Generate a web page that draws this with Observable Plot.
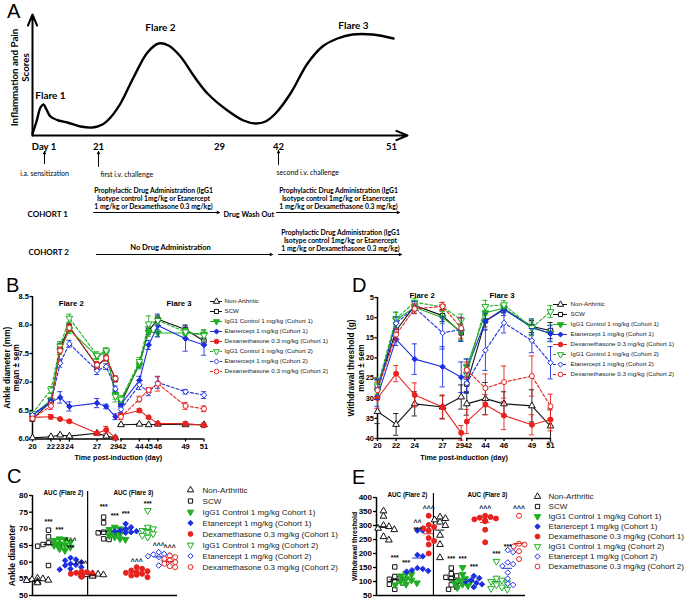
<!DOCTYPE html>
<html>
<head>
<meta charset="utf-8">
<script src="https://cdn.jsdelivr.net/npm/d3@7"></script>
<script src="https://cdn.jsdelivr.net/npm/@observablehq/plot@0.6"></script>
<style>
html,body{margin:0;padding:0;background:#fff;}
#fig{position:relative;width:685px;height:599px;overflow:hidden;background:#fff;}
.letter{position:absolute;font-size:20px;line-height:20px;color:#000;font-family:"Liberation Sans",Arial,sans-serif;}
</style>
</head>
<body>
<div id="fig"></div>
<script>
// ================= DATA =================
const seriesNames = ["Non-Arthritic","SCW","IgG1 Control 1 mg/kg (Cohort 1)","Etanercept 1 mg/kg (Cohort 1)","Dexamethasone 0.3 mg/kg (Cohort 1)","IgG1 Control 1 mg/kg (Cohort 2)","Etanercept 1 mg/kg (Cohort 2)","Dexamethasone 0.3 mg/kg (Cohort 2)"];
const aucLegendNames = ["Non-Arthritic","SCW","IgG1 Control 1 mg/kg Cohort 1)","Etanercept 1 mg/kg (Cohort 1)","Dexamethasone 0.3 mg/kg (Cohort 1)","IgG1 Control 1 mg/kg (Cohort 2)","Etanercept 1 mg/kg (Cohort 2)","Dexamethasone 0.3 mg/kg (Cohort 2)"];

// Panel A diagram text
const diagramFlares = ["Flare 1","Flare 2","Flare 3"];
const diagramDays = ["Day 1","21","29","42","51"];
const diagramEvents = ["i.a. sensitization","first i.v. challenge","second i.v. challenge"];
const drugText = "Prophylactic Drug Administration (IgG1\nIsotype control 1mg/kg or Etanercept\n1 mg/kg or Dexamethasone 0.3 mg/kg)";
// schematic score curve (diagram units)
const diagramCurveX = [32,36,40,43,46,50,58,67,80,92,102,110,120,133,147,158,168,180,193,207,227,243,255,265,275,290,307,322,337,352,372,393];
const diagramCurveY = [133,121,107,104,109,116,120,122,126,127,124,117,103,77,52,43,45,56,75,93,110,120,123,121,113,93,63,46,38,34,34,38];

// Panel B: ankle diameter (mm), mean and sem
const ankleDays = [20,22,23,24,27,28,29,42,44,45,46,49,51];
const ankleNonArthritic = [6.02,6.04,6.07,6.05,6.10,6.05,6.02, 6.25,6.26,6.25,6.26,6.25,6.25];
const ankleSCW          = [6.35,6.66,7.60,7.97,7.28,7.42,7.05, 6.63,7.32,7.90,8.10,7.92,7.72];
const ankleIgG1C1       = [6.42,6.68,7.55,7.92,7.45,7.52,6.78, 6.68,7.30,7.88,7.86,7.86,7.84];
const ankleEtanC1       = [6.43,6.65,6.73,6.57,6.63,6.57,6.39, 6.61,7.03,7.65,7.99,7.76,7.65];
const ankleDexC1        = [6.38,6.39,6.35,6.31,6.10,6.16,6.02, 6.42,6.50,6.38,6.27,6.27,6.24];
const ankleIgG1C2       = [6.45,6.86,7.63,8.12,7.47,7.55,6.75, 6.70,7.36,8.02,8.08,7.88,7.82];
const ankleEtanC2       = [6.42,6.63,7.33,7.67,7.20,7.27,6.88, 6.52,6.95,6.82,6.99,6.83,6.77];
const ankleDexC2        = [6.36,6.58,7.55,7.95,7.30,7.42,7.06, 6.39,6.70,6.86,6.97,6.58,6.53];
const ankleSemNonArthritic = [0.01,0.01,0.01,0.01,0.01,0.01,0.01, 0.01,0.01,0.01,0.01,0.01,0.01];
const ankleSemSCW          = [0.04,0.05,0.08,0.06,0.06,0.05,0.05, 0.05,0.07,0.07,0.06,0.08,0.06];
const ankleSemIgG1C1       = [0.03,0.05,0.07,0.07,0.05,0.07,0.08, 0.05,0.07,0.08,0.06,0.07,0.06];
const ankleSemEtanC1       = [0.03,0.05,0.10,0.08,0.08,0.04,0.05, 0.05,0.07,0.08,0.20,0.22,0.18];
const ankleSemDexC1        = [0.04,0.04,0.02,0.02,0.03,0.06,0.03, 0.04,0.03,0.02,0.03,0.03,0.04];
const ankleSemIgG1C2       = [0.03,0.06,0.08,0.07,0.06,0.05,0.10, 0.06,0.07,0.14,0.08,0.06,0.10];
const ankleSemEtanC2       = [0.03,0.05,0.07,0.06,0.07,0.05,0.05, 0.05,0.08,0.06,0.10,0.04,0.06];
const ankleSemDexC2        = [0.03,0.06,0.06,0.06,0.06,0.05,0.05, 0.05,0.05,0.04,0.13,0.06,0.05];
const ankleYTicks = [6.0,6.5,7.0,7.5,8.0,8.5];
const ankleXTicks = [20,22,23,24,27,29,42,44,45,46,49,51];

// Panel D: withdrawal threshold (g), mean and sem
const wdDays = [20,22,24,27,29,42,44,46,49,51];
const wdNonArthritic = [33.3,36.5,31.4,32.2,29.7, 31.4,30.1,31.4,31.9,36.9];
const wdSCW          = [27.5,13.2,7.0,9.5,13.8, 26.5,10.8,7.8,12.2,13.2];
const wdIgG1C1       = [28.2,10.6,7.4,10.0,13.5, 22.2,8.8,7.6,12.6,13.8];
const wdEtanC1       = [29.5,15.4,20.3,22.2,24.8, 22.8,10.9,8.0,12.3,14.0];
const wdDexC1        = [30.0,23.9,29.2,32.2,38.6, 35.8,31.6,34.3,36.6,35.3];
const wdIgG1C2       = [27.0,10.2,6.2,7.3,10.6, 24.0,7.2,6.8,12.5,8.5];
const wdEtanC2       = [27.8,11.4,7.5,13.8,12.9, 26.3,18.1,11.3,15.7,21.2];
const wdDexC2        = [28.0,14.2,7.8,7.2,12.6, 23.0,27.5,26.0,24.5,32.0];
const wdSemNonArthritic = [3.0,2.7,3.0,2.8,3.0, 2.8,4.0,3.0,4.0,4.0];
const wdSemSCW          = [2.0,2.0,1.2,1.5,2.0, 1.8,1.5,1.0,1.5,2.0];
const wdSemIgG1C1       = [2.0,2.0,1.2,1.5,2.0, 2.0,1.5,1.0,1.5,2.0];
const wdSemEtanC1       = [2.5,1.5,3.8,5.0,3.8, 2.5,2.0,1.5,2.0,2.0];
const wdSemDexC1        = [2.5,2.0,3.0,3.0,1.8, 3.0,2.5,3.5,2.5,2.8];
const wdSemIgG1C2       = [2.0,1.5,1.0,1.0,1.5, 2.5,1.5,1.0,2.0,1.5];
const wdSemEtanC2       = [2.5,1.5,1.5,4.0,3.0, 2.5,5.0,2.5,3.0,4.0];
const wdSemDexC2        = [2.0,1.5,1.2,1.0,2.5, 2.0,3.5,4.0,5.0,3.0];
const wdYTicks = [5,10,15,20,25,30,35,40];
const wdXTicks = [20,22,24,27,29,42,44,46,49,51];

// Panel C: AUC ankle diameter, individual animals (Flare 2 then Flare 3 groups)
const aucAnkleF2NonArth = [54.2,54.5,54.8,55.0,54.0,53.8,54.6,55.2];
const aucAnkleF2SCW     = [69.6,67.6,65.8,65.3,65.0,64.8,65.5,59.0];
const aucAnkleF2IgG1C1  = [67.0,66.5,66.0,65.5,65.0,64.5,63.5,66.8,64.0,65.2];
const aucAnkleF2EtanC1  = [61.3,60.5,60.0,59.5,59.0,58.5,58.0,60.8,59.2,57.8];
const aucAnkleF2DexC1   = [57.2,56.8,56.5,56.3,56.0,55.8,56.6,57.0,56.2,55.6];
const aucAnkleF3NonArth = [56.3,56.0,55.8,56.2,56.5,55.9,56.1,56.4];
const aucAnkleF3SCW     = [73.5,71.8,69.0,68.8,68.5,67.0,66.8,68.8];
const aucAnkleF3IgG1C1  = [70.5,70.0,69.5,69.0,68.5,68.0,67.5,67.0,66.8,69.8];
const aucAnkleF3EtanC1  = [71.5,70.5,70.0,69.5,69.2,69.0,68.8,69.3];
const aucAnkleF3DexC1   = [58.5,58.0,57.5,57.0,56.8,56.5,56.0,55.5,57.3,56.2];
const aucAnkleF3IgG1C2  = [75.5,70.5,70.0,69.5,68.5,68.0,67.5,69.0];
const aucAnkleF3EtanC2  = [63.0,62.5,62.0,61.8,61.5,60.5,59.0,62.3];
const aucAnkleF3DexC2   = [62.0,61.0,60.5,60.0,59.5,58.8,58.5,61.5];
const aucAnkleSigGroup = [1,2,3,3,4,6,7,8,9,10,11,12];
const aucAnkleSigText  = ["***","***","^^^","***","^^^","***","***","***","^^^","***","^^^","^^^"];
const aucAnkleSigValue = [72.0,69.6,66.3,64.2,59.4,76.6,73.8,74.4,60.2,77.6,64.8,64.2];
const aucAnkleTicks = [50,55,60,65,70,75,80];

// Panel E: AUC withdrawal threshold, individual animals
const aucWdF2NonArth = [352,333,300,296,290,285,260,248];
const aucWdF2SCW     = [152,118,112,108,100,95,90,72];
const aucWdF2IgG1C1  = [128,125,120,110,105,100,95,90,88];
const aucWdF2EtanC1  = [282,282,195,190,148,145,140,138,135];
const aucWdF2DexC1   = [335,302,295,290,282,255,245,232,200];
const aucWdF3NonArth = [330,325,320,312,300,265,232,185];
const aucWdF3SCW     = [148,128,120,115,110,100,88,80,72];
const aucWdF3IgG1C1  = [150,125,110,105,100,95,90,85,78];
const aucWdF3EtanC1  = [120,112,105,100,95,90,80];
const aucWdF3DexC1   = [335,330,328,325,322,318,315,285,240];
const aucWdF3IgG1C2  = [172,112,105,100,95,88,80,75,72];
const aucWdF3EtanC2  = [212,205,168,162,155,132,110,92,88];
const aucWdF3DexC2   = [335,235,232,225,208,180];
const aucWdSigGroup = [1,2,3,3,4,6,7,8,9,10,11,12];
const aucWdSigText  = ["***","***","^^","***","^^^","***","***","***","^^^","***","***","^^^"];
const aucWdSigValue = [183,168,308,285,358,180,180,153,358,200,225,358];
const aucWdTicks = [50,100,150,200,250,300,350,400];

const aucTitles = ["AUC (Flare 2)","AUC (Flare 3)"];
const aucGroupSeries = [0,1,2,3,4, 0,1,2,3,4,5,6,7];

// ================= STYLE =================
const FONT = '"Liberation Sans", Arial, sans-serif';
const DFONT = 'Lato, "Open Sans", sans-serif';
const GREEN = "#1faf22", BLUE = "#1c2fe0", RED = "#e8221e", BLACK = "#111";
const seriesColor = [BLACK, BLACK, GREEN, BLUE, RED, GREEN, BLUE, RED];
const triDown = {draw(ctx, size) { const s3 = Math.sqrt(3); const y = -Math.sqrt(size / (s3 * 3)); ctx.moveTo(0, -2 * y); ctx.lineTo(-s3 * y, y); ctx.lineTo(s3 * y, y); ctx.closePath(); }};
const seriesSymbol = ["triangle","square",triDown,"diamond2","circle",triDown,"diamond2","circle"];
const seriesFilled = [false,false,true,true,true,false,false,false];
const seriesDash = [undefined,undefined,undefined,undefined,undefined,"3,2","3,2","3,2"];
const GAP = 12.4;               // axis break between day 29 and day 42
const dayPos = d => (d > 35 ? d - GAP : d);
const posLabel = p => String(p > 29.3 ? Math.round(p + GAP) : Math.round(p));

const fig = document.getElementById("fig");
function mount(node, left, top) {
  node.style.position = "absolute";
  node.style.left = left + "px";
  node.style.top = top + "px";
  node.style.background = "transparent";
  node.style.overflow = "visible";
  node.style.maxWidth = "none";
  fig.appendChild(node);
}
function letter(t, left, top) {
  const d = document.createElement("div");
  d.className = "letter"; d.textContent = t;
  d.style.left = left + "px"; d.style.top = top + "px";
  fig.appendChild(d);
}

// ================= PANEL A =================
(function () {
  const curve = diagramCurveX.map((x, i) => ({x, y: diagramCurveY[i]}));
  const T = (txt, x, y, o = {}) => Plot.text([txt], {x, y, text: d => d, lineAnchor: "bottom", fontWeight: "bold", fontSize: 9, ...o});
  const A = (x1, y1, x2, y2, o = {}) => Plot.arrow([0], {x1, y1, x2, y2, strokeWidth: 1, headLength: 4, headAngle: 50, ...o});
  const p = Plot.plot({
    width: 420, height: 270, margin: 0,
    x: {type: "identity", axis: null}, y: {type: "identity", axis: null},
    style: {fontFamily: DFONT, color: "#000"},
    marks: [
      A(32, 135, 32, 14, {strokeWidth: 2, headLength: 9, headAngle: 45}),
      A(32, 135, 407, 135, {strokeWidth: 2, headLength: 9, headAngle: 45}),
      Plot.line(curve, {x: "x", y: "y", curve: "catmull-rom", strokeWidth: 2.4}),
      T(diagramFlares[0], 50, 98, {fontSize: 10}),
      T(diagramFlares[1], 160, 30, {fontSize: 10}),
      T(diagramFlares[2], 353, 28, {fontSize: 10}),
      Plot.text(["Inflammation and Pain"], {x: 14, y: 77, text: d => d, rotate: -90, textAnchor: "middle", fontWeight: "bold", fontSize: 9.8}),
      Plot.text(["Scores"], {x: 25, y: 67, text: d => d, rotate: -90, textAnchor: "middle", fontWeight: "bold", fontSize: 9.8}),
      T(diagramDays[0], 43.5, 149, {fontSize: 9.5}),
      T(diagramDays[1], 98, 149, {fontSize: 9.5}),
      T(diagramDays[2], 219, 149, {fontSize: 9.5}),
      T(diagramDays[3], 278, 149, {fontSize: 9.5}),
      T(diagramDays[4], 391, 149, {fontSize: 9.5}),
      A(44, 163, 44, 151), A(98, 166, 98, 151), A(278, 164, 278, 150),
      T(diagramEvents[0], 44, 175, {fontWeight: "normal", fontSize: 7}),
      T(diagramEvents[1], 100, 176, {fontWeight: "normal", fontSize: 7, textAnchor: "start"}),
      T(diagramEvents[2], 276, 174, {fontWeight: "normal", fontSize: 7, textAnchor: "start"}),
      T(drugText, 153, 208, {fontSize: 6.8, lineHeight: 1.15}),
      T(drugText, 338, 208, {fontSize: 6.8, lineHeight: 1.15}),
      T(drugText, 340, 250, {fontSize: 6.8, lineHeight: 1.15}),
      T("COHORT 1", 27, 216, {fontSize: 8, textAnchor: "start"}),
      T("COHORT 2", 28, 254, {fontSize: 8, textAnchor: "start"}),
      T("Drug Wash Out", 223, 216, {fontSize: 7.3, textAnchor: "start"}),
      T("No Drug Administration", 170, 249, {fontSize: 7.6}),
      A(93, 212, 219, 212), A(276, 212, 399, 212),
      A(96, 254, 272, 254), A(278, 254, 401, 254)
    ]
  });
  mount(p, 0, 0);
})();

// ================= TIME COURSE (B, D) =================
function timeCourse(cfg) {
  const rows = [];
  cfg.series.forEach((vals, s) => vals.forEach((v, i) => rows.push({s, x: dayPos(cfg.days[i]), flare: cfg.days[i] > 35 ? 3 : 2, v, sem: cfg.sems[s][i]})));
  const capW = 0.28;
  const isBreak = d => d === 29 || d === 42;
  const tickLabelDy = 3 + 1.5;
  const marks = [
    Plot.axisY(cfg.yTicks, {tickFormat: cfg.yFormat, tickSize: 2.5, tickPadding: 1, strokeWidth: 1.3, fontSize: 7.5, fontWeight: "bold", label: null}),
    Plot.axisX(cfg.xTicks.map(dayPos), {tickFormat: p => (isBreak(Math.round(p > 29.3 ? p + GAP : p)) ? "" : posLabel(p)), tickSize: 3, tickPadding: 1.5, strokeWidth: 1.3, fontSize: 7.5, fontWeight: "bold", label: null}),
    // labels on either side of the axis break ("29" | "42")
    Plot.text([29], {x: d => dayPos(d), text: d => String(d), frameAnchor: "bottom", lineAnchor: "top", dy: tickLabelDy, dx: cfg.breakDx, textAnchor: "end", fontSize: 7.5, fontWeight: "bold"}),
    Plot.text([42], {x: d => dayPos(d), text: d => String(d), frameAnchor: "bottom", lineAnchor: "top", dy: tickLabelDy, dx: -cfg.breakDx, textAnchor: "start", fontSize: 7.5, fontWeight: "bold"}),
    Plot.ruleX([dayPos(20)], {y1: cfg.yDomain[0], y2: cfg.yDomain[1], strokeWidth: 1.5}),
    Plot.ruleY([cfg.yBottom], {x1: dayPos(20), x2: dayPos(29) + 0.1, strokeWidth: 1.5}),
    Plot.ruleY([cfg.yBottom], {x1: dayPos(42) - 0.05, x2: dayPos(51), strokeWidth: 1.5})
  ];
  for (let s = 0; s < cfg.series.length; s++) {
    const r = rows.filter(d => d.s === s);
    const c = seriesColor[s];
    marks.push(
      Plot.ruleX(r, {x: "x", y1: d => d.v - d.sem, y2: d => d.v + d.sem, stroke: c, strokeWidth: 0.9}),
      Plot.ruleY(r, {y: d => d.v + d.sem, x1: d => d.x - capW, x2: d => d.x + capW, stroke: c, strokeWidth: 0.9}),
      Plot.ruleY(r, {y: d => d.v - d.sem, x1: d => d.x - capW, x2: d => d.x + capW, stroke: c, strokeWidth: 0.9}),
      Plot.line(r, {x: "x", y: "v", z: "flare", stroke: c, strokeWidth: 1.1, strokeDasharray: seriesDash[s]}),
      Plot.dot(r, {x: "x", y: "v", symbol: seriesSymbol[s], r: 2.5, stroke: c, fill: seriesFilled[s] ? c : "white", strokeWidth: 1})
    );
  }
  marks.push(
    Plot.text(["Flare 2", "Flare 3"], {x: (d, i) => dayPos(cfg.flareDays[i]), frameAnchor: "top", lineAnchor: "middle", dy: cfg.flareDy, text: d => d, fontSize: 7.8, fontWeight: "bold"}),
    Plot.text([cfg.yLabel[0]], {frameAnchor: "left", textAnchor: "middle", rotate: -90, dx: cfg.yLabelDx[0], text: d => d, fontSize: 8.3, fontWeight: "bold"}),
    Plot.text([cfg.yLabel[1]], {frameAnchor: "left", textAnchor: "middle", rotate: -90, dx: cfg.yLabelDx[1], text: d => d, fontSize: 8.3, fontWeight: "bold"}),
    Plot.text(["Time post-induction (day)"], {frameAnchor: "bottom", lineAnchor: "middle", dy: 19, text: d => d, fontSize: 7.2, fontWeight: "bold"})
  );
  return Plot.plot({
    width: cfg.width, height: cfg.height,
    marginLeft: cfg.xRange[0], marginRight: cfg.width - cfg.xRange[1],
    marginTop: cfg.marginTop, marginBottom: cfg.height - cfg.yBottomPx,
    x: {domain: [dayPos(20), dayPos(51)], range: cfg.xRange},
    y: {domain: cfg.yDomain, range: cfg.yRange},
    style: {fontFamily: FONT, color: "#000"},
    marks
  });
}

function lineLegend(names, cfg) {
  const marks = [];
  names.forEach((n, s) => {
    const c = seriesColor[s];
    marks.push(
      Plot.ruleY([n], {y: d => d, x1: 0, x2: 1, stroke: c, strokeWidth: 1, strokeDasharray: seriesDash[s]}),
      Plot.dot([n], {x: 0.5, y: d => d, symbol: seriesSymbol[s], r: 2.3, stroke: c, fill: seriesFilled[s] ? c : "white", strokeWidth: 1})
    );
  });
  marks.push(Plot.text(names, {x: 1, y: d => d, text: d => d, dx: cfg.textDx, textAnchor: "start", fontSize: cfg.fontSize, fill: "#222"}));
  return Plot.plot({
    width: cfg.width, height: cfg.height, margin: 0,
    x: {domain: [0, 1], range: cfg.segment, axis: null},
    y: {type: "band", domain: names, range: [0, cfg.height], padding: 0, axis: null},
    style: {fontFamily: FONT, color: "#000"},
    marks
  });
}

// Panel B
mount(timeCourse({
  days: ankleDays,
  series: [ankleNonArthritic, ankleSCW, ankleIgG1C1, ankleEtanC1, ankleDexC1, ankleIgG1C2, ankleEtanC2, ankleDexC2],
  sems: [ankleSemNonArthritic, ankleSemSCW, ankleSemIgG1C1, ankleSemEtanC1, ankleSemDexC1, ankleSemIgG1C2, ankleSemEtanC2, ankleSemDexC2],
  width: 206, height: 190, xRange: [32, 203.5],
  yDomain: [6.0, 8.5], yRange: [153.5, 11], yBottom: 6.0, yBottomPx: 153.5, marginTop: 11,
  yTicks: ankleYTicks, yFormat: d3.format(".1f"), xTicks: ankleXTicks, breakDx: 3,
  yLabel: ["Ankle diameter (mm)", "mean \u00b1 sem"], yLabelDx: [-25.5, -16],
  flareDays: [24.2, 48.3], flareDy: 7
}), 0, 285);
mount(lineLegend(seriesNames, {width: 140, height: 80, segment: [10, 22], textDx: 2, fontSize: 6.2}), 200, 296);

// Panel D
mount(timeCourse({
  days: wdDays,
  series: [wdNonArthritic, wdSCW, wdIgG1C1, wdEtanC1, wdDexC1, wdIgG1C2, wdEtanC2, wdDexC2],
  sems: [wdSemNonArthritic, wdSemSCW, wdSemIgG1C1, wdSemEtanC1, wdSemDexC1, wdSemIgG1C2, wdSemEtanC2, wdSemDexC2],
  width: 215, height: 190, xRange: [37, 210],
  yDomain: [5, 40], yRange: [12, 153], yBottom: 40, yBottomPx: 153, marginTop: 12,
  yTicks: wdYTicks, yFormat: d3.format("d"), xTicks: wdXTicks, breakDx: 2.9,
  yLabel: ["Withdrawal threshold (g)", "mean \u00b1 sem"], yLabelDx: [-26, -16.5],
  flareDays: [24.8, 45.8], flareDy: -2
}), 340, 285);
mount(lineLegend(seriesNames, {width: 140, height: 80, segment: [8, 22], textDx: 3, fontSize: 6.2}), 545, 299);

// ================= AUC (C, E) =================
function aucPanel(cfg) {
  const rows = [];
  const diam = 5.4;
  const pxPerX = (cfg.xRange[1] - cfg.xRange[0]) / (cfg.xDomain[1] - cfg.xDomain[0]);
  const pxPerY = (cfg.yRange[0] - cfg.yRange[1]) / (cfg.yDomain[1] - cfg.yDomain[0]);
  cfg.groups.forEach((vals, g) => {
    const placed = [];
    [...vals].sort((a, b) => b - a).forEach(v => {
      const ypx = v * pxPerY;
      let off = 0;
      for (const c of [0, 1, -1, 2, -2, 3, -3, 4, -4]) {
        const xo = c * diam * 0.5;
        if (placed.every(p => Math.hypot(p.xo - xo, p.ypx - ypx) >= diam * 0.92)) { off = xo; break; }
      }
      placed.push({xo: off, ypx});
      rows.push({g, s: aucGroupSeries[g], v, x: g + off / pxPerX});
    });
  });
  const means = cfg.groups.map((vals, g) => ({g, s: aucGroupSeries[g], m: d3.mean(vals)}));
  const sig = cfg.sigGroup.map((g, i) => ({g, t: cfg.sigText[i], v: cfg.sigValue[i]}));
  const marks = [
    Plot.axisY(cfg.yTicks, {tickSize: 3, tickPadding: 1.5, strokeWidth: 1.3, fontSize: 8, fontWeight: "bold", label: null}),
    Plot.ruleX([cfg.xDomain[0]], {y1: cfg.yDomain[0], y2: cfg.yDomain[1], strokeWidth: 1.5}),
    Plot.ruleY([cfg.yDomain[0]], {x1: cfg.xDomain[0], x2: cfg.xDomain[1], strokeWidth: 1.5}),
    Plot.ruleX([cfg.divider], {y1: cfg.yDomain[0], y2: cfg.yDomain[1] + (cfg.yDomain[1] - cfg.yDomain[0]) * 0.04, strokeWidth: 1.2})
  ];
  for (let s = 0; s < 8; s++) {
    const c = seriesColor[s];
    marks.push(Plot.dot(rows.filter(d => d.s === s), {x: "x", y: "v", symbol: seriesSymbol[s], r: 2.5, stroke: c, fill: seriesFilled[s] ? c : "white", strokeWidth: 1}));
  }
  for (let s = 0; s < 8; s++) {
    marks.push(Plot.ruleY(means.filter(d => d.s === s), {y: "m", x1: d => d.g - 0.42, x2: d => d.g + 0.42, stroke: seriesColor[s], strokeWidth: 1}));
  }
  marks.push(
    Plot.text(sig, {x: "g", y: "v", text: "t", fontSize: 6.8, fontWeight: "bold"}),
    Plot.text(aucTitles, {x: (d, i) => cfg.titleX[i], y: cfg.yDomain[1], dy: -3, text: d => d, fontSize: 6.3, fontWeight: "bold"}),
    Plot.text([cfg.yLabel], {frameAnchor: "left", textAnchor: "middle", rotate: -90, dx: cfg.yLabelDx, dy: cfg.yLabelDy, text: d => d, fontSize: cfg.yLabelSize, fontWeight: "bold"})
  );
  return Plot.plot({
    width: cfg.width, height: cfg.height,
    marginLeft: cfg.xRange[0], marginRight: cfg.width - cfg.xRange[1],
    marginTop: cfg.yRange[1], marginBottom: cfg.height - cfg.yRange[0],
    x: {domain: cfg.xDomain, range: cfg.xRange, axis: null},
    y: {domain: cfg.yDomain, range: cfg.yRange},
    style: {fontFamily: FONT, color: "#000"},
    marks
  });
}

function dotLegend(names, cfg) {
  const marks = [];
  names.forEach((n, s) => {
    const c = seriesColor[s];
    marks.push(Plot.dot([n], {x: 0, y: d => d, symbol: seriesSymbol[s], r: 2.4, stroke: c, fill: seriesFilled[s] ? c : "white", strokeWidth: 1}));
  });
  marks.push(Plot.text(names, {x: 1, y: d => d, text: d => d, textAnchor: "start", fontSize: cfg.fontSize, fill: "#222"}));
  return Plot.plot({
    width: cfg.width, height: cfg.height, margin: 0,
    x: {domain: [0, 1], range: cfg.segment, axis: null},
    y: {type: "band", domain: names, range: [0, cfg.height], padding: 0, axis: null},
    style: {fontFamily: FONT, color: "#000"},
    marks
  });
}

// Panel C
mount(aucPanel({
  groups: [aucAnkleF2NonArth, aucAnkleF2SCW, aucAnkleF2IgG1C1, aucAnkleF2EtanC1, aucAnkleF2DexC1,
           aucAnkleF3NonArth, aucAnkleF3SCW, aucAnkleF3IgG1C1, aucAnkleF3EtanC1, aucAnkleF3DexC1, aucAnkleF3IgG1C2, aucAnkleF3EtanC2, aucAnkleF3DexC2],
  sigGroup: aucAnkleSigGroup, sigText: aucAnkleSigText, sigValue: aucAnkleSigValue,
  width: 182, height: 119, xDomain: [-0.45, 12.7], xRange: [32, 177],
  yDomain: [50, 80], yRange: [115, 15], yTicks: aucAnkleTicks,
  divider: 4.55, titleX: [2.36, 8.7],
  yLabel: "Ankle diameter", yLabelDx: -20, yLabelDy: 10, yLabelSize: 8.6
}), 0, 480);
mount(dotLegend(aucLegendNames, {width: 160, height: 88, segment: [9, 21], fontSize: 8.1}), 181, 484);

// Panel E
mount(aucPanel({
  groups: [aucWdF2NonArth, aucWdF2SCW, aucWdF2IgG1C1, aucWdF2EtanC1, aucWdF2DexC1,
           aucWdF3NonArth, aucWdF3SCW, aucWdF3IgG1C1, aucWdF3EtanC1, aucWdF3DexC1, aucWdF3IgG1C2, aucWdF3EtanC2, aucWdF3DexC2],
  sigGroup: aucWdSigGroup, sigText: aucWdSigText, sigValue: aucWdSigValue,
  width: 190, height: 119, xDomain: [-0.62, 12.57], xRange: [36, 185],
  yDomain: [50, 400], yRange: [115, 17], yTicks: aucWdTicks,
  divider: 4.42, titleX: [2.12, 9.2],
  yLabel: "Withdrawal threshold", yLabelDx: -22, yLabelDy: 0, yLabelSize: 6.8
}), 340, 480);
mount(dotLegend(aucLegendNames, {width: 150, height: 86, segment: [0, 11], fontSize: 8.1}), 537, 488);

// panel letters
letter("A", 7, 1);
letter("B", 6, 275);
letter("C", 7, 466);
letter("D", 352, 275);
letter("E", 352, 467);
</script>
</body>
</html>
